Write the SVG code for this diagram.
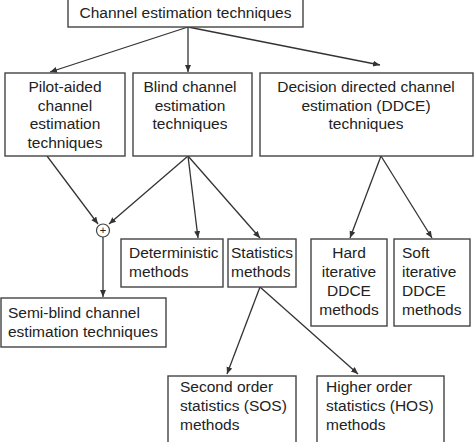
<svg xmlns="http://www.w3.org/2000/svg" width="474" height="442" viewBox="0 0 474 442">
<defs>
<marker id="ah" markerWidth="8" markerHeight="8" refX="7" refY="3" orient="auto" markerUnits="userSpaceOnUse">
<path d="M0,0 L7,3 L0,6 Z" fill="#333"/>
</marker>
<style>
.box{fill:#fff;stroke:#444;stroke-width:1.4}
.t{font-family:"Liberation Sans",Arial,sans-serif;font-size:15.5px;fill:#222}
.c{text-anchor:middle}
.ln{stroke:#333;stroke-width:1.3;fill:none;marker-end:url(#ah)}
</style>
</defs>
<rect width="474" height="442" fill="#fff"/>
<g id="connectors">
<line class="ln" x1="188" y1="27" x2="50" y2="72"/>
<line class="ln" x1="188" y1="27" x2="188" y2="72"/>
<line class="ln" x1="188" y1="27" x2="380" y2="65"/>
<line class="ln" x1="47" y1="156" x2="98" y2="224"/>
<line class="ln" x1="188" y1="156" x2="109" y2="224"/>
<line class="ln" x1="188" y1="156" x2="198" y2="238"/>
<line class="ln" x1="188" y1="156" x2="260" y2="238"/>
<line class="ln" x1="103" y1="237" x2="103" y2="297"/>
<line class="ln" x1="381" y1="156" x2="350" y2="238"/>
<line class="ln" x1="381" y1="156" x2="432" y2="238"/>
<line class="ln" x1="260" y1="287" x2="227" y2="374"/>
<line class="ln" x1="260" y1="287" x2="358" y2="374"/>
</g>
<g id="n-root"><rect class="box" x="68" y="-2" width="235" height="29"/><text class="t c" x="185.5" y="18">Channel estimation techniques</text></g>
<g id="n-pilot"><rect class="box" x="5" y="73" width="120" height="83"/><text class="t c" x="65" y="92">Pilot-aided</text><text class="t c" x="65" y="110.5">channel</text><text class="t c" x="65" y="129">estimation</text><text class="t c" x="65" y="148">techniques</text></g>
<g id="n-blind"><rect class="box" x="133" y="73" width="119" height="83"/><text class="t c" x="190" y="92">Blind channel</text><text class="t c" x="190" y="110.5">estimation</text><text class="t c" x="190" y="129">techniques</text></g>
<g id="n-ddce"><rect class="box" x="260" y="73" width="213" height="83"/><text class="t c" x="366" y="92">Decision directed channel</text><text class="t c" x="366" y="110.5">estimation (DDCE)</text><text class="t c" x="366" y="129">techniques</text></g>
<g id="n-plus"><circle cx="103" cy="230.5" r="6.5" fill="#fff" stroke="#444" stroke-width="1.2"/><text x="103" y="234" text-anchor="middle" font-family="Liberation Sans,sans-serif" font-size="11" fill="#222">+</text></g>
<g id="n-det"><rect class="box" x="121" y="239" width="102" height="48"/><text class="t" x="129" y="258">Deterministic</text><text class="t" x="129" y="277">methods</text></g>
<g id="n-stat"><rect class="box" x="228" y="239" width="68" height="48"/><text class="t" x="231" y="258">Statistics</text><text class="t" x="231" y="277">methods</text></g>
<g id="n-hard"><rect class="box" x="311" y="239" width="76" height="87"/><text class="t c" x="349" y="258">Hard</text><text class="t c" x="349" y="277">iterative</text><text class="t c" x="349" y="296">DDCE</text><text class="t c" x="349" y="315">methods</text></g>
<g id="n-soft"><rect class="box" x="394" y="239" width="76" height="87"/><text class="t" x="402" y="258">Soft</text><text class="t" x="402" y="277">iterative</text><text class="t" x="402" y="296">DDCE</text><text class="t" x="402" y="315">methods</text></g>
<g id="n-semi"><rect class="box" x="1" y="298" width="165" height="49"/><text class="t" x="8" y="318">Semi-blind channel</text><text class="t" x="8" y="337">estimation techniques</text></g>
<g id="n-sos"><rect class="box" x="168" y="376" width="128" height="70"/><text class="t" x="180" y="392">Second order</text><text class="t" x="180" y="411">statistics (SOS)</text><text class="t" x="180" y="430">methods</text></g>
<g id="n-hos"><rect class="box" x="317" y="376" width="127" height="70"/><text class="t" x="326" y="392">Higher order</text><text class="t" x="326" y="411">statistics (HOS)</text><text class="t" x="326" y="430">methods</text></g>
</svg>
